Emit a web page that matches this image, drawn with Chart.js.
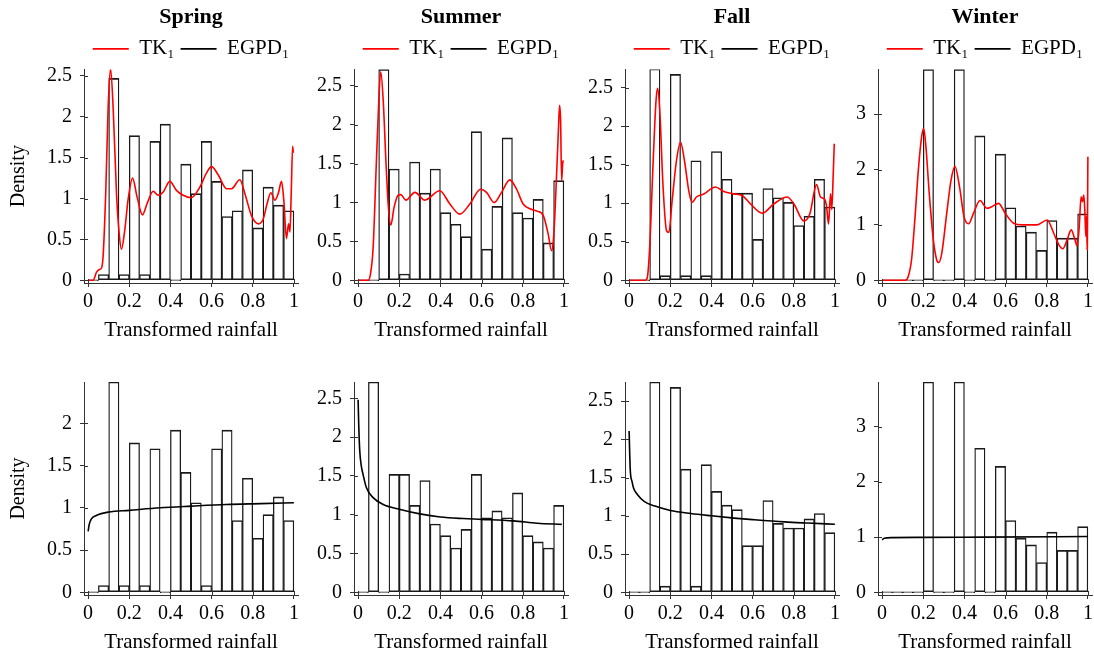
<!DOCTYPE html>
<html>
<head>
<meta charset="utf-8">
<script src="https://cdn.jsdelivr.net/npm/chart.js@4.4.1/dist/chart.umd.min.js"></script>
<style>
  html, body { margin: 0; padding: 0; background: #fff; overflow: hidden; }
  body { width: 1094px; height: 657px; position: relative; }
  canvas { position: absolute; }
</style>
</head>
<body>
<script>
const FONT = 'Liberation Serif'
const AXIS = '#333'

const seasons = ['Spring', 'Summer', 'Fall', 'Winter']
const xTicks = [0, 0.2, 0.4, 0.6, 0.8, 1]
const binCenters = [0.025, 0.075, 0.125, 0.175, 0.225, 0.275, 0.325, 0.375, 0.425, 0.475,
                    0.525, 0.575, 0.625, 0.675, 0.725, 0.775, 0.825, 0.875, 0.925, 0.975]

// histograms, top row (TK1)
const springHistTop = [0, 0.07, 2.47, 0.07, 1.77, 0.07, 1.70, 1.91, 0, 1.42, 1.06, 1.70, 1.21, 0.78, 0.85, 1.35, 0.64, 1.14, 0.92, 0.85]
const summerHistTop = [0, 0, 2.71, 1.43, 0.08, 1.52, 1.12, 1.43, 0.87, 0.72, 0.56, 1.91, 0.40, 0.95, 1.83, 0.87, 0.80, 1.04, 0.48, 1.28]
const fallHistTop   = [0, 0, 2.74, 0.06, 2.67, 0.06, 1.55, 0.06, 1.67, 1.31, 1.13, 1.13, 0.53, 1.19, 1.07, 1.01, 0.71, 0.83, 1.31, 0.95]
const winterHistTop = [0, 0, 0, 0, 3.81, 0, 0, 3.81, 0, 2.61, 0, 2.28, 1.31, 0.98, 0.87, 0.54, 1.08, 0.76, 0.76, 1.20]

// histograms, bottom row (EGPD1)
const springHistBottom = [0, 0.08, 2.49, 0.08, 1.77, 0.08, 1.70, 0, 1.92, 1.42, 1.06, 0.08, 1.70, 1.92, 0.85, 1.35, 0.64, 0.92, 1.13, 0.85]
const summerHistBottom = [0, 2.71, 0, 1.52, 1.52, 1.12, 1.44, 0.88, 0.73, 0.57, 0.81, 1.52, 0.96, 1.05, 0.96, 1.28, 0.73, 0.65, 0.57, 1.12]
const fallHistBottom   = [0, 0, 2.75, 0.08, 2.68, 1.61, 0.08, 1.67, 1.32, 1.14, 1.08, 0.61, 0.61, 1.20, 0.90, 0.84, 0.84, 0.96, 1.03, 0.78]
const winterHistBottom = [0, 0, 0, 0, 3.81, 0, 0, 3.81, 0, 2.61, 0, 2.28, 1.30, 0.98, 0.86, 0.54, 1.09, 0.76, 0.76, 1.19]

// TK1 density curves
const springTkX = [0, 0.024, 0.041, 0.053, 0.065, 0.073, 0.086, 0.097, 0.109, 0.122, 0.138, 0.151, 0.162, 0.178, 0.194, 0.216, 0.238, 0.264, 0.287, 0.316, 0.34, 0.365, 0.397, 0.429, 0.462, 0.502, 0.543, 0.575, 0.6, 0.632, 0.673, 0.697, 0.737, 0.762, 0.794, 0.827, 0.851, 0.87, 0.888, 0.908, 0.924, 0.94, 0.951, 0.964, 0.974, 0.981, 0.987, 0.994, 0.997]
const springTkY = [0, 0, 0.10, 0.13, 0.15, 0.30, 1.10, 2.09, 2.59, 2.09, 1.06, 0.57, 0.38, 0.61, 0.98, 1.25, 1.02, 0.80, 0.94, 1.09, 1.04, 1.08, 1.21, 1.10, 1.04, 1.01, 1.14, 1.31, 1.39, 1.29, 1.12, 1.12, 1.23, 1.06, 0.79, 0.69, 0.75, 0.94, 1.07, 0.98, 1.06, 1.21, 0.98, 0.51, 0.69, 0.59, 1.06, 1.64, 1.56]

const summerTkX = [0, 0.049, 0.06, 0.073, 0.089, 0.102, 0.11, 0.122, 0.135, 0.146, 0.159, 0.175, 0.194, 0.207, 0.232, 0.276, 0.324, 0.397, 0.446, 0.494, 0.543, 0.595, 0.624, 0.661, 0.697, 0.737, 0.77, 0.802, 0.835, 0.867, 0.9, 0.924, 0.94, 0.951, 0.964, 0.974, 0.979, 0.984, 0.989, 0.994, 0.997]
const summerTkY = [0, 0, 0.08, 0.42, 1.54, 2.40, 2.68, 2.31, 1.54, 0.98, 0.71, 0.94, 1.09, 1.10, 1.03, 1.13, 1.03, 1.15, 0.98, 0.85, 0.98, 1.17, 1.13, 1.00, 1.13, 1.29, 1.17, 0.98, 0.92, 0.89, 0.83, 0.59, 0.38, 0.59, 1.32, 1.97, 2.25, 2.06, 1.28, 1.50, 1.54]

const fallTkX = [0, 0.079, 0.088, 0.1, 0.117, 0.131, 0.139, 0.149, 0.165, 0.182, 0.193, 0.209, 0.23, 0.25, 0.269, 0.29, 0.306, 0.327, 0.363, 0.42, 0.46, 0.509, 0.549, 0.59, 0.647, 0.703, 0.768, 0.801, 0.849, 0.878, 0.911, 0.93, 0.95, 0.96, 0.969, 0.979, 0.985, 0.992, 0.997]
const fallTkY = [0, 0, 0.03, 0.43, 1.55, 2.34, 2.49, 2.20, 1.21, 0.64, 0.62, 1.03, 1.55, 1.79, 1.55, 1.16, 1.01, 1.08, 1.12, 1.21, 1.15, 1.12, 1.10, 0.99, 0.87, 0.99, 1.08, 0.99, 0.77, 0.86, 1.24, 1.08, 1.05, 0.95, 0.73, 1.12, 0.92, 1.38, 1.77]

const winterTkX = [0, 0.111, 0.127, 0.143, 0.159, 0.176, 0.192, 0.202, 0.213, 0.229, 0.249, 0.265, 0.275, 0.29, 0.314, 0.335, 0.354, 0.376, 0.398, 0.42, 0.444, 0.476, 0.509, 0.533, 0.566, 0.598, 0.639, 0.68, 0.753, 0.802, 0.834, 0.859, 0.878, 0.899, 0.919, 0.935, 0.948, 0.958, 0.967, 0.974, 0.98, 0.985, 0.99, 0.993, 0.997, 1]
const winterTkY = [0, 0, 0.07, 0.37, 1.09, 1.99, 2.59, 2.74, 2.41, 1.57, 0.73, 0.37, 0.32, 0.49, 1.21, 1.81, 2.06, 1.69, 1.15, 1.02, 1.21, 1.44, 1.30, 1.33, 1.39, 1.21, 1.03, 1.00, 1.00, 1.09, 0.85, 0.64, 0.57, 0.73, 0.91, 0.76, 0.62, 0.97, 1.51, 1.42, 1.54, 1.27, 0.79, 1.15, 0.55, 2.23]

// EGPD1 density curves
const springEgpdX = [0, 0.005, 0.016, 0.04, 0.1, 0.2, 0.35, 0.5, 0.67, 0.84, 1]
const springEgpdY = [0.72, 0.80, 0.87, 0.91, 0.95, 0.97, 1.00, 1.02, 1.04, 1.05, 1.06]
const summerEgpdX = [0, 0.003, 0.008, 0.016, 0.024, 0.04, 0.073, 0.122, 0.2, 0.3, 0.4, 0.51, 0.6, 0.755, 0.87, 0.99]
const summerEgpdY = [2.48, 2.16, 1.82, 1.62, 1.52, 1.35, 1.22, 1.13, 1.07, 1.01, 0.97, 0.95, 0.94, 0.92, 0.89, 0.875]
const fallEgpdX = [0, 0.003, 0.006, 0.014, 0.022, 0.04, 0.073, 0.122, 0.2, 0.3, 0.4, 0.51, 0.6, 0.755, 0.87, 1]
const fallEgpdY = [2.11, 1.80, 1.58, 1.45, 1.36, 1.28, 1.19, 1.13, 1.07, 1.03, 1.00, 0.97, 0.95, 0.92, 0.905, 0.89]
const winterEgpdX = [0, 0.01, 0.05, 0.2, 0.5, 1]
const winterEgpdY = [0.95, 0.98, 0.99, 0.995, 1.00, 1.01]

// y ticks / ranges
const yTicksHalf = [0, 0.5, 1, 1.5, 2, 2.5]
const yTicksSpringBottom = [0, 0.5, 1, 1.5, 2]
const yTicksWinter = [0, 1, 2, 3]
const yMaxTop = [2.58, 2.71, 2.735, 3.81]
const yMaxBottom = [2.49, 2.71, 2.75, 3.81]

const panels = [
  {row: 0, col: 0, hist: springHistTop, line: [springTkX, springTkY], yTicks: yTicksHalf},
  {row: 0, col: 1, hist: summerHistTop, line: [summerTkX, summerTkY], yTicks: yTicksHalf},
  {row: 0, col: 2, hist: fallHistTop, line: [fallTkX, fallTkY], yTicks: yTicksHalf},
  {row: 0, col: 3, hist: winterHistTop, line: [winterTkX, winterTkY], yTicks: yTicksWinter},
  {row: 1, col: 0, hist: springHistBottom, line: [springEgpdX, springEgpdY], yTicks: yTicksSpringBottom},
  {row: 1, col: 1, hist: summerHistBottom, line: [summerEgpdX, summerEgpdY], yTicks: yTicksHalf},
  {row: 1, col: 2, hist: fallHistBottom, line: [fallEgpdX, fallEgpdY], yTicks: yTicksHalf},
  {row: 1, col: 3, hist: winterHistBottom, line: [winterEgpdX, winterEgpdY], yTicks: yTicksWinter},
]

// layout (pixels)
const colLeft = [84, 354, 625, 878]
const plotW = 214
const axisW = [84, 50, 50, 50]
const rowTop = [0, 340]
const rowH = [347, 319]
const padTop = [0, 42]
const xAxisH = 64

// pgfplots-style ticks that cross the axis line
const crossTicks = {
  id: 'crossTicks',
  afterDraw(chart) {
    const {ctx, chartArea, scales} = chart
    ctx.save()
    ctx.strokeStyle = AXIS
    ctx.lineWidth = 1
    ctx.beginPath()
    scales.x.ticks.forEach(t => {
      const px = Math.round(scales.x.getPixelForValue(t.value)) + 0.5
      ctx.moveTo(px, chartArea.bottom)
      ctx.lineTo(px, chartArea.bottom - 4)
    })
    scales.y.ticks.forEach(t => {
      const py = Math.round(scales.y.getPixelForValue(t.value)) + 0.5
      ctx.moveTo(chartArea.left, py)
      ctx.lineTo(chartArea.left + 4, py)
    })
    ctx.stroke()
    ctx.restore()
  }
}

const toPoints = (xs, ys) => xs.map((x, i) => ({x: x, y: ys[i]}))

function lineSet(label, color, pts, order) {
  return {
    type: 'line', label: label, data: pts, order: order,
    borderColor: color, backgroundColor: color, borderWidth: 1.6,
    pointRadius: 0, fill: false, cubicInterpolationMode: 'monotone'
  }
}

panels.forEach(p => {
  const W = axisW[p.col]
  const cv = document.createElement('canvas')
  cv.width = plotW + 2 * W
  cv.height = rowH[p.row]
  cv.style.left = (colLeft[p.col] - W) + 'px'
  cv.style.top = rowTop[p.row] + 'px'
  document.body.appendChild(cv)

  const yMax = p.row === 0 ? yMaxTop[p.col] : yMaxBottom[p.col]
  const curve = toPoints(p.line[0], p.line[1])
  const datasets = []
  if (p.row === 0) {
    datasets.push(lineSet('TK\u2081', 'rgb(255,0,0)', curve, 0))
    datasets.push(lineSet('EGPD\u2081', '#000', [], 1))
  } else {
    datasets.push(lineSet('EGPD\u2081', '#000', curve, 1))
  }
  datasets.push({
    type: 'bar', label: 'hist', order: 2,
    data: toPoints(binCenters, p.hist),
    backgroundColor: 'rgba(255,255,255,0)',
    borderColor: '#1a1a1a',
    borderWidth: {top: 1, bottom: 1, left: 0.65, right: 0.65},
    borderSkipped: false,
    minBarLength: 1,
    barPercentage: 1, categoryPercentage: 1
  })

  new Chart(cv, {
    type: 'bar',
    data: {datasets: datasets},
    plugins: [crossTicks],
    options: {
      responsive: false, animation: false, events: [],
      layout: {padding: {top: padTop[p.row], right: 0, bottom: 0, left: 0}},
      plugins: {
        tooltip: {enabled: false},
        title: {
          display: p.row === 0, text: seasons[p.col], color: '#000',
          font: {family: FONT, size: 22, weight: 'bold'},
          padding: {top: 4, bottom: 2}
        },
        legend: {
          display: p.row === 0,
          labels: {
            usePointStyle: true, pointStyle: 'line', pointStyleWidth: 36,
            padding: 6, color: '#000',
            font: {family: FONT, size: 21},
            filter: it => it.text !== 'hist'
          }
        }
      },
      scales: {
        x: {
          type: 'linear', min: -0.02, max: 1.02, offset: false,
          afterBuildTicks: s => { s.ticks = xTicks.map(v => ({value: v})) },
          afterFit: s => { s.height = xAxisH },
          grid: {drawOnChartArea: false, offset: false, tickLength: 4, color: AXIS},
          border: {display: true, color: AXIS, width: 1},
          ticks: {padding: 3, color: '#000', font: {family: FONT, size: 20}, maxRotation: 0, callback: v => String(v)},
          title: {display: true, text: 'Transformed rainfall', color: '#000', font: {family: FONT, size: 21}, padding: {top: 4, bottom: 4}}
        },
        y: {
          type: 'linear', min: -0.013 * yMax, max: yMax,
          afterBuildTicks: s => { s.ticks = p.yTicks.map(v => ({value: v})) },
          afterFit: s => { s.width = W },
          grid: {drawOnChartArea: false, tickLength: 4, color: AXIS},
          border: {display: true, color: AXIS, width: 1},
          ticks: {padding: 8, color: '#000', font: {family: FONT, size: 20}, callback: v => String(v)},
          title: {display: p.col === 0, text: 'Density', color: '#000', font: {family: FONT, size: 20}, padding: {top: 7, bottom: 4}}
        },
        // empty right-hand spacer so the title and legend centre over the plot
        spacer: {
          type: 'linear', position: 'right', display: true,
          afterFit: s => { s.width = W },
          grid: {display: false}, border: {display: false}, ticks: {display: false}
        }
      }
    }
  })
})
</script>
</body>
</html>
